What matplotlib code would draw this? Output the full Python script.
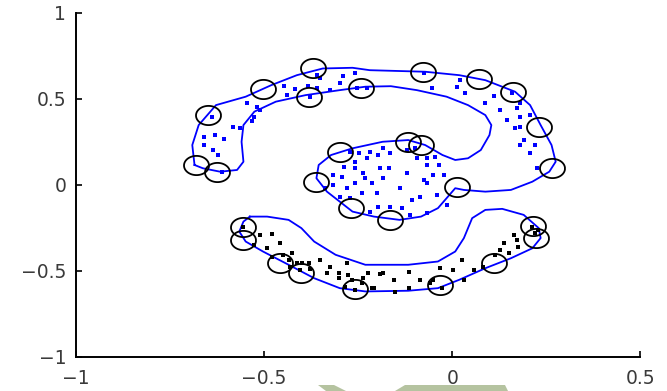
import matplotlib
matplotlib.use('Agg')
import matplotlib.pyplot as plt
from matplotlib.patches import Polygon
import numpy as np

# decision boundary around the upper (blue) spiral class
upper_bx = [-0.685, -0.691, -0.674, -0.628, -0.549, -0.481, -0.413, -0.344, -0.265, -0.219,
            -0.072, 0.019, 0.088, 0.167, 0.207, 0.235, 0.264, 0.275, 0.258, 0.213,
            0.156, 0.088, 0.031, 0.008, -0.015, -0.038, -0.083, -0.140, -0.208, -0.265,
            -0.299, -0.333, -0.361, -0.355, -0.322, -0.265, -0.185, -0.117, -0.072, -0.026,
            0.008, 0.042, 0.076, 0.099, 0.104, 0.088, 0.042, -0.015, -0.094, -0.163,
            -0.231, -0.299, -0.390, -0.469, -0.526, -0.555, -0.560, -0.555, -0.572, -0.617,
            -0.663, -0.685]
upper_by = [0.116, 0.232, 0.348, 0.464, 0.513, 0.580, 0.638, 0.677, 0.681, 0.667,
            0.658, 0.638, 0.609, 0.542, 0.464, 0.348, 0.232, 0.135, 0.077, 0.019,
            -0.029, -0.039, -0.029, -0.019, -0.077, -0.135, -0.184, -0.203, -0.184, -0.155,
            -0.097, -0.039, 0.039, 0.116, 0.174, 0.213, 0.251, 0.261, 0.232, 0.174,
            0.145, 0.155, 0.203, 0.290, 0.348, 0.406, 0.464, 0.513, 0.551, 0.574,
            0.571, 0.551, 0.522, 0.484, 0.426, 0.348, 0.251, 0.135, 0.087, 0.077,
            0.097, 0.116]

# decision boundary around the lower (black) crescent class
lower_bx = [-0.538, -0.492, -0.435, -0.401, -0.367, -0.310, -0.231, -0.117, -0.038, 0.008,
            0.031, 0.053, 0.088, 0.133, 0.190, 0.230, 0.235, 0.213, 0.156, 0.088,
            0.019, -0.038, -0.117, -0.231, -0.299, -0.367, -0.435, -0.503, -0.549, -0.566,
            -0.555, -0.538]
lower_by = [-0.184, -0.184, -0.203, -0.251, -0.329, -0.406, -0.464, -0.464, -0.445, -0.387,
            -0.309, -0.193, -0.145, -0.139, -0.174, -0.251, -0.309, -0.368, -0.426, -0.484,
            -0.551, -0.600, -0.615, -0.619, -0.600, -0.542, -0.464, -0.387, -0.329, -0.271,
            -0.213, -0.184]

# class +1 samples (blue)
blue_x = [-0.446, -0.418, -0.438, -0.384, -0.360, -0.546, -0.519, -0.511, -0.528, -0.533,
          -0.582, -0.564, -0.630, -0.608, -0.661, -0.661, -0.635, -0.622, -0.613, -0.360,
          -0.351, -0.639, -0.291, -0.258, -0.298, -0.324, -0.378, -0.227, -0.076, -0.054,
          0.012, -0.254, 0.021, 0.035, 0.110, 0.088, 0.128, 0.172, 0.181, 0.207,
          0.146, 0.168, 0.181, 0.190, 0.181, 0.207, 0.221, 0.225, 0.159, 0.181,
          -0.271, -0.249, -0.218, -0.183, -0.196, -0.227, -0.258, -0.289, -0.316, -0.293,
          -0.258, -0.236, -0.191, -0.169, -0.165, -0.121, -0.098, -0.094, -0.067, -0.045,
          -0.067, -0.036, -0.121, -0.183, -0.231, -0.258, -0.214, -0.280, -0.240, -0.200,
          -0.138, -0.107, -0.076, -0.067, -0.041, -0.085, -0.067, -0.112, -0.134, -0.196,
          -0.218, -0.271, -0.298, -0.165, -0.316, -0.338, -0.023, -0.050, -0.014]
blue_y = [0.577, 0.556, 0.523, 0.577, 0.562, 0.478, 0.452, 0.436, 0.397, 0.372,
          0.339, 0.330, 0.291, 0.267, 0.281, 0.233, 0.203, 0.174, 0.077, 0.640,
          0.624, 0.397, 0.636, 0.649, 0.591, 0.552, 0.513, 0.562, 0.649, 0.562,
          0.568, 0.562, 0.610, 0.533, 0.517, 0.475, 0.436, 0.446, 0.397, 0.407,
          0.378, 0.330, 0.339, 0.262, 0.233, 0.184, 0.233, 0.097, 0.533, 0.475,
          0.194, 0.184, 0.194, 0.213, 0.174, 0.155, 0.136, 0.107, 0.058, 0.048,
          0.097, 0.068, 0.101, 0.101, 0.184, 0.203, 0.213, 0.155, 0.155, 0.165,
          0.116, 0.116, 0.068, 0.039, 0.039, 0.010, 0.010, -0.019, -0.048, -0.048,
          -0.019, -0.087, 0.029, 0.010, -0.058, -0.068, -0.165, -0.174, -0.136, -0.126,
          -0.155, -0.078, -0.068, -0.126, 0.000, -0.019, 0.058, 0.058, -0.116]

# class -1 samples (black)
black_x = [-0.555, -0.480, -0.511, -0.457, -0.493, -0.528, -0.480, -0.449, -0.426, -0.435,
           -0.413, -0.400, -0.382, -0.404, -0.378, -0.351, -0.324, -0.333, -0.302, -0.302,
           -0.276, -0.267, -0.236, -0.223, -0.240, -0.285, -0.258, -0.209, -0.183, -0.156,
           -0.152, -0.280, -0.431, -0.116, -0.116, -0.032, 0.001, -0.050, -0.027, 0.026,
           0.030, 0.057, 0.083, 0.114, 0.137, 0.128, 0.163, 0.172, 0.176, 0.150,
           0.212, 0.229, 0.221, -0.085, -0.059, -0.191, -0.214]
black_y = [-0.242, -0.285, -0.291, -0.335, -0.368, -0.349, -0.417, -0.407, -0.397, -0.436,
           -0.455, -0.455, -0.455, -0.494, -0.490, -0.436, -0.475, -0.513, -0.510, -0.543,
           -0.523, -0.552, -0.543, -0.513, -0.572, -0.591, -0.610, -0.601, -0.513, -0.552,
           -0.620, -0.455, -0.475, -0.504, -0.601, -0.484, -0.494, -0.552, -0.601, -0.436,
           -0.552, -0.494, -0.475, -0.407, -0.339, -0.378, -0.291, -0.320, -0.359, -0.397,
           -0.242, -0.262, -0.281, -0.552, -0.572, -0.517, -0.601]

# support vectors (circled)
sv_x = [-0.370, -0.503, -0.382, -0.242, -0.077, 0.070, 0.161, 0.230, 0.264, -0.648,
        -0.680, -0.625, -0.299, -0.117, -0.083, -0.361, 0.014, -0.270, -0.165,
        -0.557, -0.557, 0.216, 0.224, -0.458, -0.401, -0.259, -0.032, 0.110]
sv_y = [0.677, 0.557, 0.509, 0.561, 0.658, 0.615, 0.538, 0.335, 0.097, 0.406,
        0.116, 0.073, 0.193, 0.251, 0.232, 0.015, -0.014, -0.135, -0.203,
        -0.242, -0.319, -0.236, -0.309, -0.455, -0.509, -0.605, -0.584, -0.455]

ticks_x = [-1, -0.5, 0, 0.5]
ticks_y = [-1, -0.5, 0, 0.5, 1]
labels_x = ['\u22121', '\u22120.5', '0', '0.5']
labels_y = ['\u22121', '\u22120.5', '0', '0.5', '1']

plt.rcParams['font.family'] = ['DejaVu Sans']

fig = plt.figure(figsize=(6.67, 3.91), dpi=100)
ax = fig.add_axes([0.114, 0.087, 0.846, 0.880])

ax.plot(upper_bx, upper_by, color='#0000ff', lw=1.3)
ax.plot(lower_bx, lower_by, color='#0000ff', lw=1.3)
ax.plot(blue_x, blue_y, 's', color='#0000ff', ms=2.5, mew=0, ls='none')
ax.plot(black_x, black_y, 's', color='black', ms=2.5, mew=0, ls='none')

# slightly wide open circle marker (the original raster was stretched)
t = np.linspace(0, 2 * np.pi, 60)
ellipse = np.column_stack([1.3 * np.cos(t), np.sin(t)])
ax.plot(sv_x, sv_y, ls='none', marker=ellipse, ms=18, mfc='none', mec='black', mew=1.3)

ax.set_xlim(-1, 0.5)
ax.set_ylim(-1, 1)
ax.set_xticks(ticks_x)
ax.set_xticklabels(labels_x)
ax.set_yticks(ticks_y)
ax.set_yticklabels(labels_y)
ax.spines['top'].set_visible(False)
ax.spines['right'].set_visible(False)
for s in ['left', 'bottom']:
    ax.spines[s].set_linewidth(1.4)
ax.tick_params(direction='in', length=4, width=1.2, labelsize=13.5,
               labelcolor='#3a3a3a')
ax.tick_params(axis='x', pad=9)
ax.tick_params(axis='y', pad=7)

# faint green watermark sliver along the bottom edge
W, H = 667.0, 391.0
wm1 = Polygon([(318 / W, 1 - 385 / H), (334 / W, 1 - 385 / H), (346 / W, 0), (326 / W, 0)],
              closed=True, transform=fig.transFigure, color='#b5c3a0', lw=0)
wm2 = Polygon([(405 / W, 1 - 385 / H), (505 / W, 1 - 385 / H), (508 / W, 0), (395 / W, 0)],
              closed=True, transform=fig.transFigure, color='#b5c3a0', lw=0)
fig.patches.extend([wm1, wm2])

fig.savefig('out.png', dpi=100)
